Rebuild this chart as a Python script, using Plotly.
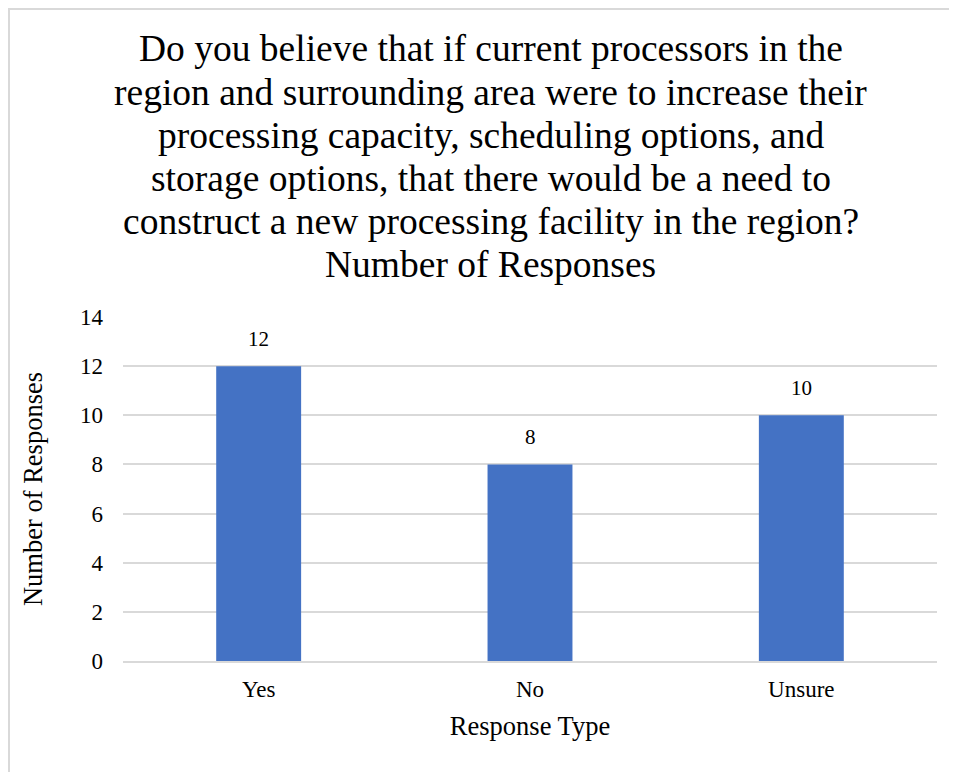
import plotly.graph_objects as go

categories = ["Yes", "No", "Unsure"]
responses = [12, 8, 10]
y_ticks = [0, 2, 4, 6, 8, 10, 12, 14]

title_lines = [
    "Do you believe that if current processors in the",
    "region and surrounding area were to increase their",
    "processing capacity, scheduling options, and",
    "storage options, that there would be a need to",
    "construct a new processing facility in the region?",
    "Number of Responses",
]

FONT = "Liberation Serif, Times New Roman, serif"
OFF = 8  # page body margin
W, H = 957 - OFF, 772 - OFF
ML, MR, MT, MB = 123 - OFF, 20, 317 - OFF, 111
PW, PH = W - ML - MR, H - MT - MB


def px_to_paper_x(sx):
    return (sx - OFF - ML) / PW


def px_to_paper_y(sy):
    return (H - MB - (sy - OFF)) / PH


fig = go.Figure(go.Bar(
    x=categories, y=responses,
    marker=dict(color="#4472C4", line=dict(width=0)),
    cliponaxis=False,
))

annotations = []
TITLE_SIZE = 37.5
first_baseline, line_step = 62, 43.2
for i, line in enumerate(title_lines):
    baseline = first_baseline + i * line_step
    annotations.append(dict(
        text=line, showarrow=False, xref="paper", yref="paper",
        x=px_to_paper_x(490.5), y=px_to_paper_y(baseline - 0.35 * TITLE_SIZE),
        xanchor="center", yanchor="middle",
        font=dict(family=FONT, size=TITLE_SIZE, color="#000000"),
    ))

for c, v in zip(categories, responses):
    annotations.append(dict(
        text=str(v), x=c, y=v, xref="x", yref="y", showarrow=False,
        xanchor="center", yanchor="bottom", yshift=13,
        font=dict(family=FONT, size=21, color="#000000"),
    ))

fig.update_layout(
    width=W, height=H,
    paper_bgcolor="white", plot_bgcolor="white",
    margin=dict(l=ML, r=MR, t=MT, b=MB),
    bargap=0.687,
    showlegend=False,
    font=dict(family=FONT, color="#000000"),
    xaxis=dict(
        showline=True, linecolor="#d9d9d9", linewidth=1.5,
        ticks="", tickfont=dict(family=FONT, size=23, color="#000000"),
        ticklabelstandoff=7,
        title=dict(text="Response Type", font=dict(family=FONT, size=26.5, color="#000000"), standoff=15),
    ),
    yaxis=dict(
        range=[0, 14], tickvals=y_ticks,
        showgrid=True, gridcolor="#d9d9d9", gridwidth=1.5,
        zeroline=False, showline=False, ticks="",
        tickfont=dict(family=FONT, size=23, color="#000000"),
        ticklabelstandoff=19,
        title=dict(text="Number of Responses", font=dict(family=FONT, size=26.5, color="#000000"), standoff=29),
    ),
    annotations=annotations,
    shapes=[dict(type="rect", xref="paper", yref="paper",
                 x0=(1 - ML) / PW, x1=1.3, y0=-0.6, y1=(H - MB - 1) / PH,
                 line=dict(color="#d9d9d9", width=2), fillcolor="rgba(0,0,0,0)", layer="below")],
)

fig.write_html("out.html")
